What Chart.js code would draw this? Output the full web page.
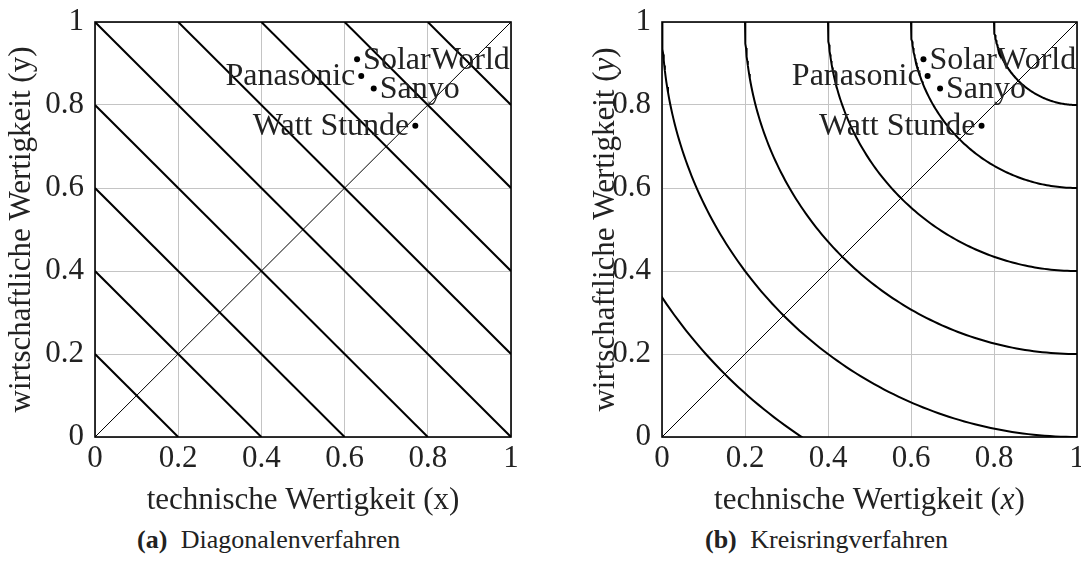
<!DOCTYPE html>
<html lang="de">
<head>
<meta charset="utf-8">
<title>Diagonalen- und Kreisringverfahren</title>
<script src="https://cdn.jsdelivr.net/npm/chart.js@4.4.1/dist/chart.umd.min.js"></script>
<style>
  html, body { margin: 0; padding: 0; background: #fff; }
  body { width: 1081px; height: 571px; position: relative; overflow: hidden; }
  canvas { position: absolute; top: 0; }
  #chartA { left: 0; }
  #chartB { left: 567px; }
  .caption {
    position: absolute; top: 524px;
    font-family: "Liberation Serif", "DejaVu Serif", serif;
    font-size: 26px; line-height: 32px; color: #222; white-space: nowrap;
  }
  .caption b { font-weight: bold; margin-right: 7px; }
</style>
</head>
<body>
<canvas id="chartA" width="560" height="520"></canvas>
<canvas id="chartB" width="514" height="520"></canvas>
<div class="caption" style="left:137px"><b>(a)</b> Diagonalenverfahren</div>
<div class="caption" style="left:705px"><b>(b)</b> Kreisringverfahren</div>

<script>
// ---- data ----
const axisTicks = [0, 0.2, 0.4, 0.6, 0.8, 1];
// iso-lines x + y = const (Diagonalenverfahren)
const diagonalSums = [0.2, 0.4, 0.6, 0.8, 1.0, 1.2, 1.4, 1.6, 1.8];
// rings around the ideal point (1, 1) (Kreisringverfahren)
const ringRadii = [0.2, 0.4, 0.6, 0.8, 1.0, 1.2];
const idealPoint = { x: 1, y: 1 };
const producers = ['SolarWorld', 'Panasonic', 'Sanyo', 'Watt Stunde'];
const technicalValue = [0.63, 0.64, 0.67, 0.77];
const economicValue = [0.91, 0.87, 0.84, 0.75];

// ---- drawing ----
const FONT = '"Liberation Serif", "DejaVu Serif", serif';
const TEXT_SIZE = 31;
const LABEL_SIZE = 32;
const TEXT_COLOR = '#222';
const labelSide = { 'SolarWorld': 'right', 'Panasonic': 'left', 'Sanyo': 'right', 'Watt Stunde': 'left' };

function diagonalLine(c) {
  return c <= 1
    ? [{ x: 0, y: c }, { x: c, y: 0 }]
    : [{ x: c - 1, y: 1 }, { x: 1, y: c - 1 }];
}

function ringArc(r) {
  const pts = [];
  const n = 120;
  for (let i = 0; i <= n; i++) {
    const a = Math.PI + (Math.PI / 2) * i / n;
    pts.push({ x: idealPoint.x + r * Math.cos(a), y: idealPoint.y + r * Math.sin(a) });
  }
  return pts;
}

function heavy(data) {
  return { data, showLine: true, borderColor: '#000', borderWidth: 2, pointRadius: 0, tension: 0, fill: false };
}

const diagonalRef = { data: [{ x: 0, y: 0 }, { x: 1, y: 1 }], showLine: true, borderColor: '#000', borderWidth: 1, pointRadius: 0, fill: false };

const producerPoints = {
  data: producers.map((p, i) => ({ x: technicalValue[i], y: economicValue[i] })),
  showLine: false, pointRadius: 3, pointBackgroundColor: '#000', pointBorderColor: '#000', pointBorderWidth: 0
};

// draw the rich text (mixed upright / italic) centred at (x, y)
function drawParts(ctx, parts, x, y, rotation) {
  ctx.save();
  ctx.translate(x, y);
  ctx.rotate(rotation);
  ctx.textBaseline = 'middle';
  ctx.fillStyle = TEXT_COLOR;
  let total = 0;
  const widths = parts.map(p => {
    ctx.font = (p.italic ? 'italic ' : '') + TEXT_SIZE + 'px ' + FONT;
    const w = ctx.measureText(p.t).width;
    total += w;
    return w;
  });
  let cx = -total / 2;
  parts.forEach((p, i) => {
    ctx.font = (p.italic ? 'italic ' : '') + TEXT_SIZE + 'px ' + FONT;
    ctx.textAlign = 'left';
    ctx.fillText(p.t, cx, 0);
    cx += widths[i];
  });
  ctx.restore();
}

const decorations = {
  id: 'decorations',
  afterDatasetsDraw(chart, args, opts) {
    const { ctx, chartArea: a, scales } = chart;
    // plot frame
    ctx.save();
    ctx.strokeStyle = '#000';
    ctx.lineWidth = 1.6;
    ctx.strokeRect(a.left, a.top, a.right - a.left, a.bottom - a.top);
    ctx.restore();
    // producer labels
    ctx.save();
    ctx.font = LABEL_SIZE + 'px ' + FONT;
    ctx.fillStyle = TEXT_COLOR;
    ctx.textBaseline = 'middle';
    producers.forEach((name, i) => {
      const px = scales.x.getPixelForValue(technicalValue[i]);
      const py = scales.y.getPixelForValue(economicValue[i]);
      if (labelSide[name] === 'right') {
        ctx.textAlign = 'left';
        ctx.fillText(name, px + 6, py + 1);
      } else {
        ctx.textAlign = 'right';
        ctx.fillText(name, px - 6, py + 1);
      }
    });
    ctx.restore();
    // axis titles
    drawParts(ctx, opts.xTitle, (a.left + a.right) / 2, a.bottom + 64, 0);
    drawParts(ctx, opts.yTitle, a.left - opts.yTitleGap, (a.top + a.bottom) / 2, -Math.PI / 2);
  }
};

function makeChart(id, datasets, padRight, xTitle, yTitle, yTitleGap) {
  const tickFont = { family: FONT, size: TEXT_SIZE };
  return new Chart(document.getElementById(id), {
    type: 'scatter',
    data: { datasets },
    options: {
      responsive: false,
      animation: false,
      devicePixelRatio: 1,
      layout: { padding: { left: 0, top: 22, right: padRight, bottom: 0 } },
      plugins: {
        legend: { display: false },
        tooltip: { enabled: false },
        decorations: { xTitle, yTitle, yTitleGap }
      },
      scales: {
        x: {
          type: 'linear', min: 0, max: 1,
          border: { display: false },
          grid: { color: '#c4c4c4', lineWidth: 1, drawTicks: false },
          ticks: { font: tickFont, color: TEXT_COLOR, padding: 3, maxRotation: 0, callback: v => String(v) },
          afterBuildTicks: s => { s.ticks = axisTicks.map(v => ({ value: v })); },
          afterFit: s => { s.height = 83; s.paddingLeft = 0; s.paddingRight = 0; }
        },
        y: {
          type: 'linear', min: 0, max: 1,
          border: { display: false },
          grid: { color: '#c4c4c4', lineWidth: 1, drawTicks: false },
          ticks: { font: tickFont, color: TEXT_COLOR, padding: 11, callback: v => String(v) },
          afterBuildTicks: s => { s.ticks = axisTicks.map(v => ({ value: v })); },
          afterFit: s => { s.width = 95; s.paddingTop = 0; s.paddingBottom = 0; }
        }
      }
    },
    plugins: [decorations]
  });
}

makeChart('chartA',
  [diagonalRef, ...diagonalSums.map(c => heavy(diagonalLine(c))), producerPoints],
  49,
  [{ t: 'technische Wertigkeit (x)' }],
  [{ t: 'wirtschaftliche Wertigkeit (y)' }],
  73);

makeChart('chartB',
  [diagonalRef, ...ringRadii.map(r => heavy(ringArc(r))), producerPoints],
  4,
  [{ t: 'technische Wertigkeit (' }, { t: 'x', italic: true }, { t: ')' }],
  [{ t: 'wirtschaftliche Wertigkeit (' }, { t: 'y', italic: true }, { t: ')' }],
  56);
</script>
</body>
</html>
